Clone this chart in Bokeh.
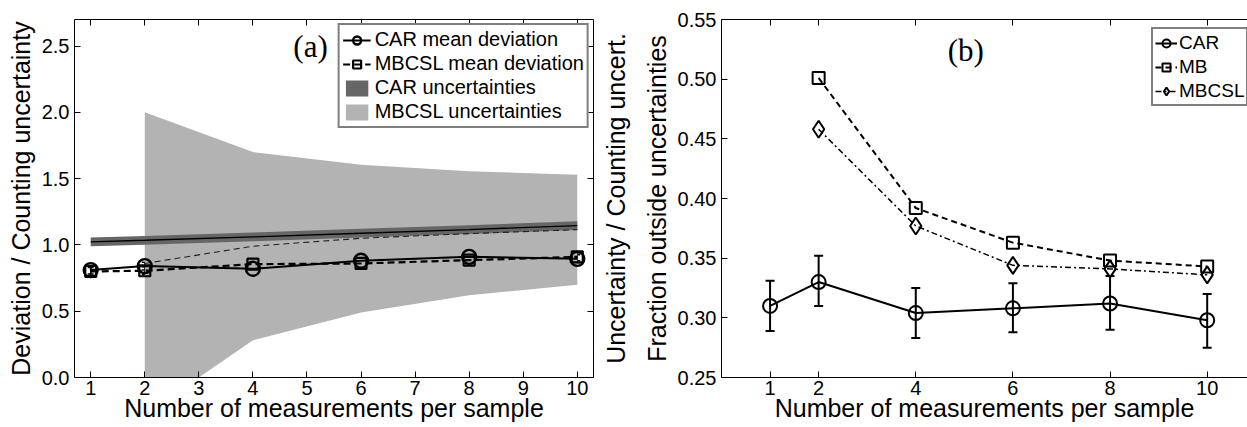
from bokeh.plotting import figure
from bokeh.layouts import row
from bokeh.models import (Range1d, LinearAxis, FixedTicker, PrintfTickFormatter, Label,
                          Legend, LegendItem, Whisker, TeeHead, ColumnDataSource)
from bokeh.embed import file_html
from bokeh.resources import INLINE

# ---------------- data: panel (a) ----------------
n_meas = [1, 2, 4, 6, 8, 10]
car_mean_dev = [0.81, 0.84, 0.82, 0.88, 0.91, 0.895]
car_dev_err = [0.03, 0.03, 0.03, 0.03, 0.03, 0.03]
mbcsl_mean_dev = [0.80, 0.805, 0.855, 0.86, 0.885, 0.91]
mbcsl_dev_err = [0.03, 0.03, 0.03, 0.03, 0.03, 0.03]
car_unc_center = [1.023, 1.035, 1.06, 1.088, 1.116, 1.146]
car_unc_lower = [0.99, 1.002, 1.027, 1.055, 1.083, 1.113]
car_unc_upper = [1.056, 1.068, 1.093, 1.121, 1.149, 1.179]
n_meas_mbcsl = [2, 4, 6, 8, 10]
mbcsl_unc_upper = [2.00, 1.70, 1.605, 1.555, 1.53]
mbcsl_unc_lower = [-0.28, 0.28, 0.49, 0.62, 0.70]
mbcsl_unc_center = [0.86, 0.99, 1.05, 1.085, 1.115]
a_xticks = [1, 2, 3, 4, 5, 6, 7, 8, 9, 10]
a_yticks = [0.0, 0.5, 1.0, 1.5, 2.0, 2.5]

# ---------------- data: panel (b) ----------------
b_x = [1, 2, 4, 6, 8, 10]
car_frac = [0.310, 0.330, 0.304, 0.308, 0.312, 0.298]
car_frac_lo = [0.289, 0.310, 0.283, 0.288, 0.290, 0.275]
car_frac_hi = [0.331, 0.352, 0.325, 0.329, 0.335, 0.320]
b_x2 = [2, 4, 6, 8, 10]
mb_frac = [0.501, 0.392, 0.363, 0.348, 0.343]
mbcsl_frac = [0.458, 0.377, 0.344, 0.341, 0.336]
b_xticks = [1, 2, 4, 6, 8, 10]
b_yticks = [0.25, 0.30, 0.35, 0.40, 0.45, 0.50, 0.55]

FONT = "Liberation Sans"
SERIF = "Liberation Serif"
TICK_FS = "20px"
LAB_FS = "25px"
LEG_FS = "20px"
LIGHT = "#b3b3b3"
DARK = "#666666"


def style_axis(ax):
    ax.axis_line_color = "black"
    ax.axis_line_width = 1
    ax.major_tick_line_color = "black"
    ax.major_tick_line_width = 1
    ax.major_tick_in = 6
    ax.major_tick_out = 0
    ax.minor_tick_line_color = None
    ax.major_label_text_font = FONT
    ax.major_label_text_color = "black"
    ax.major_label_text_font_size = TICK_FS
    ax.major_label_standoff = 5
    ax.axis_label_text_font = FONT
    ax.axis_label_text_font_size = LAB_FS
    ax.axis_label_text_font_style = "normal"
    ax.axis_label_text_color = "black"


def mirror_axis(ticks):
    # tick marks only (drawn as minor ticks so no labels are produced)
    ax = LinearAxis(ticker=FixedTicker(ticks=[], minor_ticks=ticks))
    ax.axis_line_color = "black"
    ax.axis_line_width = 1
    ax.major_tick_line_color = None
    ax.minor_tick_line_color = "black"
    ax.minor_tick_line_width = 1
    ax.minor_tick_in = 6
    ax.minor_tick_out = 0
    ax.major_label_standoff = 0
    ax.axis_label_standoff = 0
    return ax


# ======================= panel (a) =======================
pa = figure(width=598, height=427, x_range=Range1d(0.7, 10.3), y_range=Range1d(0, 2.7),
            output_backend="svg", toolbar_location=None,
            min_border_left=74, min_border_right=5, min_border_top=19, min_border_bottom=50)
pa.grid.visible = False
pa.outline_line_color = None
pa.background_fill_color = "white"
pa.border_fill_color = "white"

pa.xaxis.ticker = FixedTicker(ticks=a_xticks)
pa.yaxis.ticker = FixedTicker(ticks=a_yticks)
pa.yaxis.formatter = PrintfTickFormatter(format="%.1f")
pa.xaxis.axis_label = "Number of measurements per sample"
pa.yaxis.axis_label = "Deviation / Counting uncertainty"
for ax in pa.xaxis + pa.yaxis:
    style_axis(ax)
pa.xaxis.major_label_standoff = 3
pa.xaxis.axis_label_standoff = -4
pa.yaxis.axis_label_standoff = 4

pa.add_layout(mirror_axis(a_xticks), "above")
pa.add_layout(mirror_axis(a_yticks), "right")

r_mb_unc = pa.varea(x=n_meas_mbcsl, y1=mbcsl_unc_lower, y2=mbcsl_unc_upper, fill_color=LIGHT)
r_car_unc = pa.varea(x=n_meas, y1=car_unc_lower, y2=car_unc_upper, fill_color=DARK)
pa.line(n_meas, car_unc_center, line_color="black", line_width=1.3)
pa.line(n_meas_mbcsl, mbcsl_unc_center, line_color="#222222", line_width=1.1, line_dash="6 4")

src_car_a = ColumnDataSource(dict(x=n_meas, lo=[m - e for m, e in zip(car_mean_dev, car_dev_err)],
                                  hi=[m + e for m, e in zip(car_mean_dev, car_dev_err)]))
src_mb_a = ColumnDataSource(dict(x=n_meas, lo=[m - e for m, e in zip(mbcsl_mean_dev, mbcsl_dev_err)],
                                 hi=[m + e for m, e in zip(mbcsl_mean_dev, mbcsl_dev_err)]))
for s in (src_car_a, src_mb_a):
    pa.add_layout(Whisker(source=s, base="x", lower="lo", upper="hi", line_width=1.5,
                          line_color="black",
                          upper_head=TeeHead(size=6, line_width=1.5, line_color="black"),
                          lower_head=TeeHead(size=6, line_width=1.5, line_color="black")))

l_mb = pa.line(n_meas, mbcsl_mean_dev, line_color="black", line_width=2.2, line_dash="7 4")
m_mb = pa.scatter(n_meas, mbcsl_mean_dev, marker="square", size=11, fill_color=None,
                  line_color="black", line_width=2.2)
l_car = pa.line(n_meas, car_mean_dev, line_color="black", line_width=2)
m_car = pa.scatter(n_meas, car_mean_dev, marker="circle", size=14, fill_color=None,
                   line_color="black", line_width=2.4)

leg_a = Legend(items=[
    LegendItem(label="CAR mean deviation", renderers=[l_car, m_car]),
    LegendItem(label="MBCSL mean deviation", renderers=[l_mb, m_mb]),
    LegendItem(label="CAR uncertainties", renderers=[r_car_unc]),
    LegendItem(label="MBCSL uncertainties", renderers=[r_mb_unc]),
], location="top_right", margin=4, padding=3, spacing=1,
    glyph_width=28, glyph_height=20, label_height=23, label_standoff=4,
    label_text_font=FONT, label_text_font_size=LEG_FS, label_text_color="black",
    border_line_color="black", border_line_width=2, background_fill_alpha=1.0)
pa.add_layout(leg_a)

pa.add_layout(Label(x=5.066, y=2.50, text="(a)", text_font=SERIF, text_font_size="31px",
                    text_align="center", text_baseline="alphabetic", text_color="black"))

# ======================= panel (b) =======================
pb = figure(width=649, height=427, x_range=Range1d(0, 10.83), y_range=Range1d(0.25, 0.55),
            output_backend="svg", toolbar_location=None,
            min_border_left=116, min_border_right=0, min_border_top=18, min_border_bottom=49)
pb.grid.visible = False
pb.outline_line_color = None
pb.background_fill_color = "white"
pb.border_fill_color = "white"

pb.xaxis.ticker = FixedTicker(ticks=b_xticks)
pb.yaxis.ticker = FixedTicker(ticks=b_yticks)
pb.yaxis.formatter = PrintfTickFormatter(format="%.2f")
pb.xaxis.axis_label = "Number of measurements per sample"
pb.yaxis.axis_label = "Fraction outside uncertainties"
for ax in pb.xaxis + pb.yaxis:
    style_axis(ax)
pb.xaxis.major_label_standoff = 3
pb.xaxis.axis_label_standoff = -4
pb.yaxis.axis_label_standoff = 4

pb.add_layout(mirror_axis(b_xticks), "above")

# title of the right-hand axis of panel (a), which sits in the gap between the panels
ax_unc = LinearAxis(ticker=FixedTicker(ticks=[]), axis_label="Uncertainty / Counting uncert.")
style_axis(ax_unc)
ax_unc.axis_line_color = None
ax_unc.major_tick_line_color = None
ax_unc.major_label_standoff = 0
ax_unc.axis_label_standoff = 10
pb.add_layout(ax_unc, "left")

src_b = ColumnDataSource(dict(x=b_x, lo=car_frac_lo, hi=car_frac_hi))
pb.add_layout(Whisker(source=src_b, base="x", lower="lo", upper="hi", line_width=2,
                      line_color="black",
                      upper_head=TeeHead(size=9, line_width=2, line_color="black"),
                      lower_head=TeeHead(size=9, line_width=2, line_color="black")))

lb_car = pb.line(b_x, car_frac, line_color="black", line_width=2)
mb_car = pb.scatter(b_x, car_frac, marker="circle", size=14, fill_color=None,
                    line_color="black", line_width=2)
lb_mb = pb.line(b_x2, mb_frac, line_color="black", line_width=2, line_dash="6 4")
mb_mb = pb.scatter(b_x2, mb_frac, marker="square", size=12, fill_color=None,
                   line_color="black", line_width=2)
lb_ms = pb.line(b_x2, mbcsl_frac, line_color="black", line_width=1.5, line_dash="6 3 2 3")
mb_ms = pb.scatter(b_x2, mbcsl_frac, marker="diamond", size=17, fill_color=None,
                   line_color="black", line_width=2)

leg_b = Legend(items=[
    LegendItem(label="CAR", renderers=[lb_car, mb_car]),
    LegendItem(label="MB", renderers=[lb_mb, mb_mb]),
    LegendItem(label="MBCSL", renderers=[lb_ms, mb_ms]),
], location=(430, 271), margin=0, padding=2, spacing=1,
    glyph_width=22, glyph_height=20, label_height=23, label_standoff=2,
    label_text_font=FONT, label_text_font_size="19px", label_text_color="black",
    border_line_color="black", border_line_width=2, background_fill_alpha=1.0)
pb.add_layout(leg_b)

pb.add_layout(Label(x=5.03, y=0.524, text="(b)", text_font=SERIF, text_font_size="31px",
                    text_align="center", text_baseline="alphabetic", text_color="black"))

layout = row(pa, pb, spacing=0)
open("out.html", "w").write(file_html(layout, INLINE))
